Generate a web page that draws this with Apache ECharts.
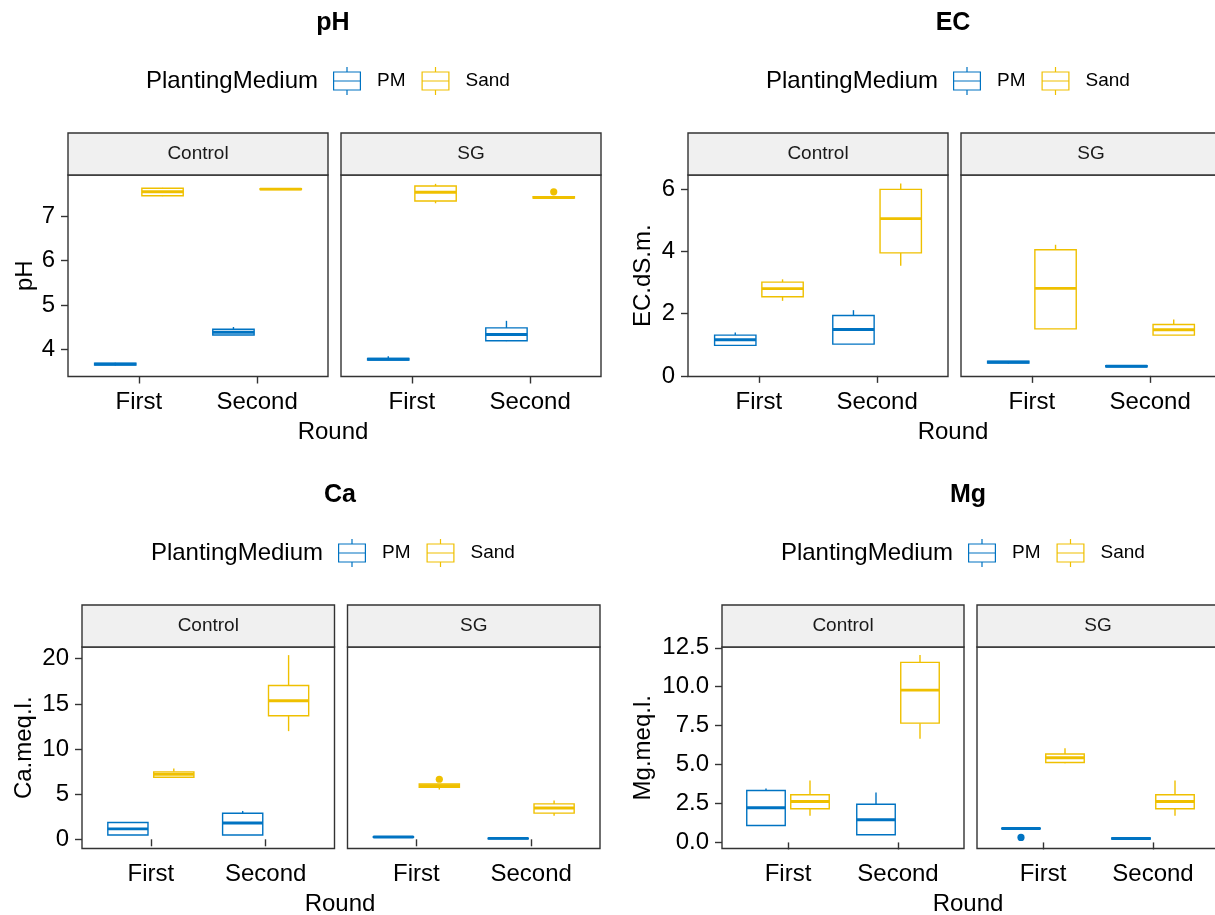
<!DOCTYPE html>
<html>
<head>
<meta charset="utf-8">
<title>Planting medium by round</title>
<script src="https://cdn.jsdelivr.net/npm/echarts@6/dist/echarts.min.js"></script>
<style>
  html, body { margin: 0; padding: 0; background: #fff; }
  #chart { width: 1215px; height: 915px; }
</style>
</head>
<body>
<div id="chart"></div>
<script>
// ---- categories ----
const rounds = ['First', 'Second'];
const treatments = ['Control', 'SG'];
const media = ['PM', 'Sand'];

// ---- five-number summaries [min, Q1, median, Q3, max], one row per round ----
const pH_Control_PM   = [[3.63, 3.64, 3.66, 3.68, 3.69], [4.32, 4.32, 4.38, 4.45, 4.50]];
const pH_Control_Sand = [[7.46, 7.47, 7.56, 7.64, 7.65], [7.60, 7.61, 7.62, 7.63, 7.64]];
const pH_SG_PM        = [[3.74, 3.75, 3.77, 3.79, 3.84], [4.18, 4.19, 4.33, 4.48, 4.64]];
const pH_SG_Sand      = [[7.30, 7.35, 7.55, 7.69, 7.74], [7.42, 7.42, 7.43, 7.45, 7.45]];
const pH_SG_Sand_out  = [[2, 7.56]];

const EC_Control_PM   = [[0.97, 0.98, 1.16, 1.31, 1.39], [1.02, 1.02, 1.49, 1.94, 2.11]];
const EC_Control_Sand = [[2.41, 2.54, 2.80, 3.01, 3.10], [3.54, 3.95, 5.05, 5.99, 6.18]];
const EC_SG_PM        = [[0.40, 0.41, 0.44, 0.47, 0.48], [0.29, 0.29, 0.31, 0.33, 0.34]];
const EC_SG_Sand      = [[1.51, 1.51, 2.81, 4.05, 4.21], [1.31, 1.31, 1.48, 1.65, 1.81]];

const Ca_Control_PM   = [[0.47, 0.47, 1.15, 1.86, 1.86], [0.47, 0.47, 1.81, 2.89, 3.14]];
const Ca_Control_Sand = [[6.87, 6.87, 7.21, 7.47, 7.84], [11.98, 13.68, 15.34, 17.04, 20.40]];
const Ca_SG_PM        = [[0.20, 0.22, 0.26, 0.30, 0.32], [0.04, 0.06, 0.10, 0.13, 0.15]];
const Ca_SG_Sand      = [[5.51, 5.75, 5.95, 6.12, 6.12], [2.62, 2.90, 3.47, 3.92, 4.29]];
const Ca_SG_Sand_out  = [[1, 6.65]];

const Mg_Control_PM   = [[1.09, 1.09, 2.23, 3.33, 3.47], [0.49, 0.49, 1.46, 2.45, 3.21]];
const Mg_Control_Sand = [[1.71, 2.16, 2.63, 3.06, 3.98], [6.66, 7.66, 9.78, 11.56, 12.03]];
const Mg_SG_PM        = [[0.86, 0.87, 0.89, 0.91, 0.92], [0.21, 0.22, 0.25, 0.28, 0.30]];
const Mg_SG_Sand      = [[5.09, 5.13, 5.44, 5.68, 6.04], [1.71, 2.16, 2.63, 3.06, 3.98]];
const Mg_SG_PM_out    = [[1, 0.32]];

// ---- y tick labels and axis limits ----
const pH_ticks = [4, 5, 6, 7];
const EC_ticks = [0, 2, 4, 6];
const Ca_ticks = [0, 5, 10, 15, 20];
const Mg_ticks = [0, 2.5, 5, 7.5, 10, 12.5];
const pH_limits = [3.38, 7.94];
const EC_limits = [-0.02, 6.45];
const Ca_limits = [-1.02, 21.3];
const Mg_limits = [-0.39, 12.55];

// ---- styling ----
const FONT = "'Liberation Sans', Arial, sans-serif";
const COLORS = { PM: '#0073C2', Sand: '#EFC000' };
const DODGE = { PM: -0.2, Sand: 0.2 };
const HALF_BOX = 0.175;
const LINE = '#333333';

const panels = [
  { title: 'pH', yTitle: 'pH', ticks: pH_ticks, limits: pH_limits, fmt: v => String(v),
    data: { Control: { PM: pH_Control_PM, Sand: pH_Control_Sand }, SG: { PM: pH_SG_PM, Sand: pH_SG_Sand } },
    out: { SG: { Sand: pH_SG_Sand_out } },
    x0: 68, w: 260, dy: 0, cx: 333, legendX: 333, yTitleX: 25 },
  { title: 'EC', yTitle: 'EC.dS.m.', ticks: EC_ticks, limits: EC_limits, fmt: v => String(v),
    data: { Control: { PM: EC_Control_PM, Sand: EC_Control_Sand }, SG: { PM: EC_SG_PM, Sand: EC_SG_Sand } },
    out: {},
    x0: 688, w: 260, dy: 0, cx: 953, legendX: 953, yTitleX: 643 },
  { title: 'Ca', yTitle: 'Ca.meq.l.', ticks: Ca_ticks, limits: Ca_limits, fmt: v => String(v),
    data: { Control: { PM: Ca_Control_PM, Sand: Ca_Control_Sand }, SG: { PM: Ca_SG_PM, Sand: Ca_SG_Sand } },
    out: { SG: { Sand: Ca_SG_Sand_out } },
    x0: 82, w: 252.5, dy: 472, cx: 340, legendX: 338, yTitleX: 24 },
  { title: 'Mg', yTitle: 'Mg.meq.l.', ticks: Mg_ticks, limits: Mg_limits, fmt: v => v.toFixed(1),
    data: { Control: { PM: Mg_Control_PM, Sand: Mg_Control_Sand }, SG: { PM: Mg_SG_PM, Sand: Mg_SG_Sand } },
    out: { SG: { PM: Mg_SG_PM_out } },
    x0: 722, w: 242, dy: 472, cx: 968, legendX: 968, yTitleX: 643 }
];

const FACET_GAP = 13;
const STRIP_TOP = 133, PLOT_TOP = 175, PLOT_H = 201.5;

const LEGEND_ICON = 'path://M13.4 0h1.2v5h-1.2z M0 4.4h28v1.2h-28z M0 22.4h28v1.2h-28z ' +
  'M0 4.4h1.2v19.2h-1.2z M26.8 4.4h1.2v19.2h-1.2z M0 13.4h28v1.2h-28z M13.4 23h1.2v5h-1.2z';

function boxRenderer(medium) {
  const color = COLORS[medium];
  const off = DODGE[medium];
  return function (params, api) {
    const x = api.value(0) + off;
    const pMin = api.coord([x, api.value(1)]);
    const pQ1 = api.coord([x, api.value(2)]);
    const pMed = api.coord([x, api.value(3)]);
    const pQ3 = api.coord([x, api.value(4)]);
    const pMax = api.coord([x, api.value(5)]);
    const xl = api.coord([x - HALF_BOX, api.value(3)])[0];
    const xr = api.coord([x + HALF_BOX, api.value(3)])[0];
    const thin = { stroke: color, lineWidth: 1.4, fill: null };
    return {
      type: 'group',
      children: [
        { type: 'line', shape: { x1: pMin[0], y1: pMin[1], x2: pQ1[0], y2: pQ1[1] }, style: thin },
        { type: 'line', shape: { x1: pQ3[0], y1: pQ3[1], x2: pMax[0], y2: pMax[1] }, style: thin },
        { type: 'rect', shape: { x: xl, y: pQ3[1], width: xr - xl, height: pQ1[1] - pQ3[1] },
          style: { stroke: color, lineWidth: 1.4, fill: '#ffffff' } },
        { type: 'line', shape: { x1: xl, y1: pMed[1], x2: xr, y2: pMed[1] },
          style: { stroke: color, lineWidth: 2.9, lineCap: 'butt' } }
      ]
    };
  };
}

function outlierRenderer(medium) {
  const color = COLORS[medium];
  const off = DODGE[medium];
  return function (params, api) {
    const p = api.coord([api.value(0) + off, api.value(1)]);
    return { type: 'circle', shape: { cx: p[0], cy: p[1], r: 3.6 }, style: { fill: color } };
  };
}

const grids = [], xAxes = [], yAxes = [], series = [], legends = [], graphics = [];

panels.forEach(pn => {
  // panel title
  graphics.push({ type: 'text', x: pn.cx, y: 23 + pn.dy,
    style: { text: pn.title, font: 'bold 25px ' + FONT, fill: '#000', align: 'center', verticalAlign: 'middle' } });
  // legend title
  graphics.push({ type: 'text', x: pn.legendX - 15, y: 81 + pn.dy,
    style: { text: 'PlantingMedium', font: '24px ' + FONT, fill: '#000', align: 'right', verticalAlign: 'middle' } });
  legends.push({
    left: pn.legendX, top: 67 + pn.dy, padding: 0, orient: 'horizontal',
    icon: LEGEND_ICON, itemWidth: 28, itemHeight: 28, itemGap: 16,
    selectedMode: false,
    data: media.map(m => ({ name: m, itemStyle: { color: COLORS[m], borderWidth: 0 } })),
    textStyle: { fontFamily: FONT, fontSize: 19, color: '#000', padding: [0, 0, 0, 11] }
  });
  // y axis title
  graphics.push({ type: 'text', x: pn.yTitleX, y: PLOT_TOP + pn.dy + PLOT_H / 2, rotation: Math.PI / 2,
    style: { text: pn.yTitle, font: '24px ' + FONT, fill: '#000', align: 'center', verticalAlign: 'middle' } });
  // x axis title
  graphics.push({ type: 'text', x: pn.cx, y: 432 + pn.dy,
    style: { text: 'Round', font: '24px ' + FONT, fill: '#000', align: 'center', verticalAlign: 'middle' } });

  treatments.forEach((tr, ti) => {
    const left = pn.x0 + ti * (pn.w + FACET_GAP);
    const gi = grids.length;
    grids.push({ left: left, top: PLOT_TOP + pn.dy, width: pn.w, height: PLOT_H,
      show: true, borderColor: LINE, borderWidth: 1.4, backgroundColor: 'transparent',
      containLabel: false, outerBoundsMode: 'none' });
    // facet strip
    graphics.push({ type: 'rect', shape: { x: left, y: STRIP_TOP + pn.dy, width: pn.w, height: PLOT_TOP - STRIP_TOP },
      style: { fill: '#F0F0F0', stroke: LINE, lineWidth: 1.4 } });
    graphics.push({ type: 'text', x: left + pn.w / 2, y: (STRIP_TOP + PLOT_TOP) / 2 + pn.dy,
      style: { text: tr, font: '19px ' + FONT, fill: '#1A1A1A', align: 'center', verticalAlign: 'middle' } });

    xAxes.push({ type: 'value', gridIndex: gi, min: 0.4, max: 2.6,
      splitLine: { show: false }, axisLine: { show: false },
      axisTick: { show: true, length: 7, customValues: [1, 2], lineStyle: { color: LINE, width: 1.4 } },
      axisLabel: { show: true, customValues: [1, 2], margin: 14, formatter: v => rounds[Math.round(v) - 1],
        fontFamily: FONT, fontSize: 24, color: '#000' } });
    yAxes.push({ type: 'value', gridIndex: gi, min: pn.limits[0], max: pn.limits[1],
      splitLine: { show: false }, axisLine: { show: false },
      axisTick: { show: ti === 0, length: 7, customValues: pn.ticks, lineStyle: { color: LINE, width: 1.4 } },
      axisLabel: { show: ti === 0, customValues: pn.ticks, margin: 13, formatter: v => pn.fmt(v),
        fontFamily: FONT, fontSize: 24, color: '#000' } });

    media.forEach(m => {
      series.push({
        type: 'custom', name: m, xAxisIndex: gi, yAxisIndex: gi,
        itemStyle: { color: COLORS[m] },
        renderItem: boxRenderer(m),
        encode: { x: 0, y: [1, 2, 3, 4, 5] },
        data: pn.data[tr][m].map((s, i) => [i + 1].concat(s)),
        silent: true, animation: false
      });
      const o = pn.out[tr] && pn.out[tr][m];
      if (o) {
        series.push({
          type: 'custom', name: m, xAxisIndex: gi, yAxisIndex: gi,
          itemStyle: { color: COLORS[m] },
          renderItem: outlierRenderer(m),
          encode: { x: 0, y: 1 },
          data: o, silent: true, animation: false
        });
      }
    });
  });
});

const chart = echarts.init(document.getElementById('chart'), null, { renderer: 'canvas' });
chart.setOption({
  backgroundColor: '#ffffff',
  animation: false,
  textStyle: { fontFamily: FONT },
  grid: grids,
  xAxis: xAxes,
  yAxis: yAxes,
  legend: legends,
  series: series,
  graphic: { elements: graphics }
});
</script>
</body>
</html>
